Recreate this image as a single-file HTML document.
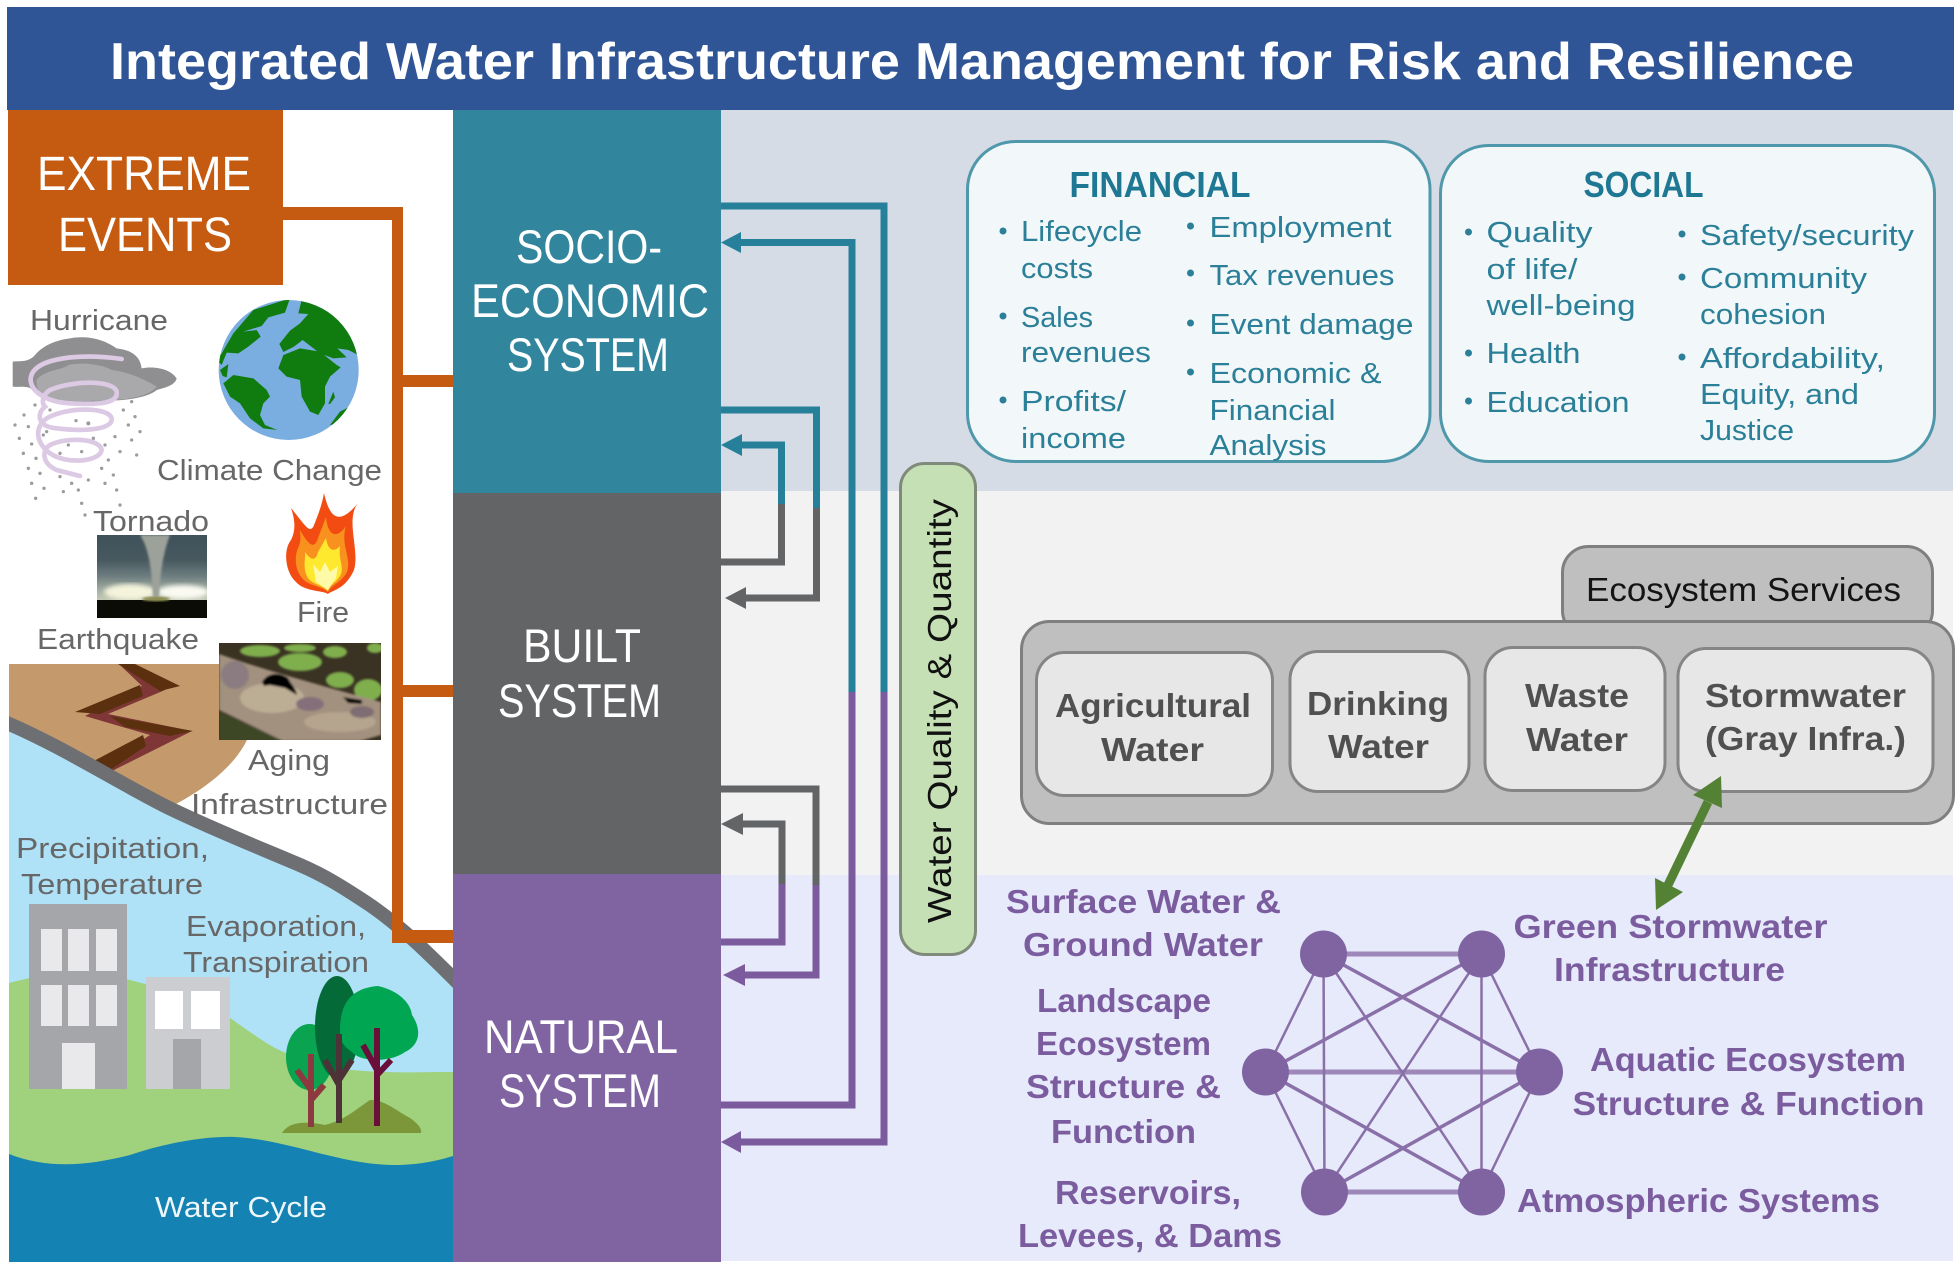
<!DOCTYPE html>
<html lang="en">
<head>
<meta charset="utf-8">
<title>Integrated Water Infrastructure Management for Risk and Resilience</title>
<style>
html,body{margin:0;padding:0;background:#fff;width:1960px;height:1270px;overflow:hidden}
svg{display:block}
text{font-family:"Liberation Sans",sans-serif}
.tt{fill:#fff;font-weight:bold;font-size:52px}
.ev{fill:#fff;font-size:48px}
.sy{fill:#fff;font-size:47px}
.lb{fill:#676767;font-size:29px}
.fi{fill:#2b7f98;font-size:29px}
.hd{fill:#1f7893;font-size:36px;font-weight:bold}
.bl{fill:#2b7f98}
.in{fill:#505050;font-size:33px;font-weight:bold}
.pu{fill:#7b5c9e;font-size:33px;font-weight:bold}
</style>
</head>
<body>
<svg width="1960" height="1270" viewBox="0 0 1960 1270" xmlns="http://www.w3.org/2000/svg">
<defs>
<filter id="b1"><feGaussianBlur stdDeviation="1"/></filter>
<filter id="b2"><feGaussianBlur stdDeviation="2.5"/></filter>
<clipPath id="globe"><circle cx="288.700" cy="370" r="70"/></clipPath>
<clipPath id="pipe"><rect x="219" y="643" width="162" height="97"/></clipPath>
<clipPath id="torn"><rect x="97" y="535" width="110" height="83"/></clipPath>
<clipPath id="scene"><rect x="9" y="600" width="444" height="662"/></clipPath>
<linearGradient id="tg" x1="0" y1="0" x2="0" y2="1">
<stop offset="0" stop-color="#3f515a"/><stop offset=".3" stop-color="#47585f"/><stop offset=".5" stop-color="#6e7e80"/><stop offset=".68" stop-color="#a8b3a4"/><stop offset=".8" stop-color="#c8ccb8"/>
</linearGradient>
</defs>

<!-- backgrounds -->
<rect x="721" y="110" width="1232" height="381" fill="#d6dce5"/>
<rect x="721" y="491" width="1232" height="384" fill="#f2f2f2"/>
<rect x="721" y="875" width="1232" height="386" fill="#e6eafb"/>

<!-- title bar -->
<rect x="7" y="7" width="1947" height="103" fill="#2f5597"/>
<text class="tt" x="110" y="79" textLength="1744" lengthAdjust="spacingAndGlyphs">Integrated Water Infrastructure Management for Risk and Resilience</text>

<!-- Scene: earthquake ground -->
<path d="M9 664H252V725C245 760 205 790 168 808L9 730Z" fill="#c49a6c"/>
<!-- crack -->
<path d="M120 665L165 690L108 714L192 731L110 772L100 768L150 735L85 716L142 686Z" fill="#7e3636"/>
<path d="M118 664H135L180 686L160 691Z" fill="#5a300f"/>
<path d="M75 712L140 685L143 696L100 714Z" fill="#5a300f"/>
<path d="M110 716L193 731L170 736L125 727Z" fill="#5a300f"/>
<path d="M90 763L143 735L146 746L107 772Z" fill="#5a300f"/>

<g clip-path="url(#scene)">
<!-- sky, grass, water -->
<path d="M9 725C60 745 110 778 167 807C210 828 260 848 300 865C330 878 350 892 367 903C400 925 430 955 453 978V1262H9Z" fill="#afe1f7"/>
<path d="M9 983C40 975 60 972 90 974C130 975 200 1000 230 1018C250 1032 265 1043 277 1049C300 1060 320 1066 333 1068C380 1074 420 1072 453 1072V1200H9Z" fill="#a0d17c"/>
<path d="M9 1154C50 1170 90 1165 130 1155C165 1143 205 1136 235 1137C290 1140 340 1165 395 1165C420 1165 440 1160 453 1156V1262H9Z" fill="#1482b2"/>
<path d="M0 720C60 745 110 778 167 807C210 828 260 848 300 865C330 878 350 892 367 903C400 925 430 955 460 985" fill="none" stroke="#6e6f73" stroke-width="14"/>
</g>

<!-- buildings -->
<rect x="29" y="904" width="98" height="185" fill="#a5a6a9"/>
<g fill="#e9e9eb">
<rect x="41" y="929" width="21" height="42"/><rect x="68" y="929" width="21" height="42"/><rect x="96" y="929" width="21" height="42"/>
<rect x="41" y="985" width="21" height="41"/><rect x="68" y="985" width="21" height="41"/><rect x="96" y="985" width="21" height="41"/>
<rect x="62" y="1043" width="33" height="46"/>
</g>
<rect x="146" y="977" width="84" height="112" fill="#cccdd0"/>
<rect x="155" y="991" width="28" height="38" fill="#fff"/><rect x="191" y="991" width="29" height="38" fill="#fff"/>
<rect x="173" y="1039" width="28" height="50" fill="#a5a6a9"/>

<!-- trees -->
<path d="M282 1133C290 1120 310 1122 325 1125C345 1120 355 1110 370 1100C385 1100 395 1110 410 1118C420 1125 422 1130 421 1133Z" fill="#7b973a"/>
<ellipse cx="309.500" cy="1057" rx="23.500" ry="33" fill="#0aa34f"/>
<ellipse cx="337" cy="1027" rx="22" ry="51" fill="#046a38"/>
<path d="M340 1030C340 1005 350 988 378 986C395 990 410 1000 412 1015C422 1030 420 1045 405 1052C390 1063 360 1062 352 1052C342 1045 340 1040 340 1030Z" fill="#00a651"/>
<path d="M311 1127V1054M311 1090L297 1070M311 1100L324 1085" stroke="#8c3a3f" stroke-width="6" fill="none"/>
<path d="M339 1123V1034M339 1085L325 1060M339 1080L352 1060" stroke="#4d3338" stroke-width="6" fill="none"/>
<path d="M377 1126V1028M377 1070L363 1045M377 1075L391 1060" stroke="#6a0f3a" stroke-width="6" fill="none"/>

<!-- hurricane (zoom-space group) -->
<g transform="translate(0 290) scale(.33333)">
<path d="M38 215C60 212 85 218 105 195C130 165 170 150 210 145C245 138 300 140 350 175C390 180 420 195 425 235C460 228 510 235 530 265C525 285 500 292 470 300C450 318 400 330 330 332C270 338 180 338 130 325C110 312 100 298 85 292C65 288 50 292 38 290Z" fill="#8f8f92"/>
<path d="M110 270C130 240 190 240 205 225C250 215 310 225 335 240C380 245 430 265 470 290C450 315 400 328 330 330C260 336 180 335 130 322C115 305 108 290 110 270Z" fill="#a9a9ac"/>
<g fill="#9c9c9e">
<circle cx="72" cy="375" r="5"/><circle cx="45" cy="405" r="5"/><circle cx="58" cy="445" r="5"/><circle cx="85" cy="410" r="5"/><circle cx="95" cy="462" r="5"/><circle cx="70" cy="490" r="5"/><circle cx="108" cy="505" r="5"/><circle cx="85" cy="535" r="5"/><circle cx="120" cy="550" r="5"/><circle cx="95" cy="580" r="5"/><circle cx="132" cy="595" r="5"/><circle cx="107" cy="625" r="5"/><circle cx="180" cy="560" r="5"/><circle cx="215" cy="580" r="5"/><circle cx="190" cy="605" r="5"/><circle cx="235" cy="600" r="5"/><circle cx="265" cy="570" r="5"/><circle cx="315" cy="580" r="5"/><circle cx="350" cy="600" r="5"/><circle cx="340" cy="555" r="5"/><circle cx="305" cy="535" r="5"/><circle cx="325" cy="510" r="5"/><circle cx="360" cy="485" r="5"/><circle cx="395" cy="450" r="5"/><circle cx="410" cy="495" r="5"/><circle cx="420" cy="425" r="5"/><circle cx="385" cy="405" r="5"/><circle cx="405" cy="380" r="5"/><circle cx="370" cy="360" r="5"/><circle cx="395" cy="335" r="5"/><circle cx="345" cy="440" r="5"/><circle cx="315" cy="465" r="5"/><circle cx="265" cy="400" r="6"/><circle cx="228" cy="392" r="5"/><circle cx="140" cy="425" r="5"/><circle cx="130" cy="435" r="5"/><circle cx="205" cy="465" r="5"/><circle cx="245" cy="485" r="5"/><circle cx="180" cy="490" r="5"/><circle cx="280" cy="445" r="5"/><circle cx="245" cy="640" r="5"/><circle cx="360" cy="645" r="5"/><circle cx="255" cy="675" r="5"/><circle cx="105" cy="345" r="5"/><circle cx="150" cy="360" r="5"/><circle cx="220" cy="340" r="5"/><circle cx="280" cy="335" r="5"/><circle cx="175" cy="330" r="5"/>
</g>
<path d="M365 207C250 190 100 200 92 265C90 300 130 335 210 340C300 345 355 340 350 305C340 270 220 270 150 300C125 315 125 340 135 350C110 370 110 410 170 415C250 425 340 420 335 385C325 350 200 350 140 385C100 415 110 460 150 490C200 525 300 515 305 480C300 445 200 440 150 465C125 480 125 520 170 540L240 558" fill="none" stroke="#dcc9e3" stroke-width="14" stroke-linecap="round"/>
</g>

<!-- globe -->
<circle cx="288.700" cy="370" r="70" fill="#7aade0"/>
<g clip-path="url(#globe)"><g transform="translate(0 290) scale(.33333)" fill="#107c10">
<path d="M650 210L665 190L700 130L760 60L870 25L855 68L805 82L785 108L730 125L770 120L782 140L745 170L715 190L680 188L665 225Z"/>
<path d="M905 30L980 40L1060 110L1085 200L1045 180L1012 175L1040 202L1000 205L960 190L908 150L882 170L850 186L838 162L870 122L900 100L925 72L895 70Z"/>
<path d="M835 235L850 195L900 175L960 185L1010 225L1022 232L990 260L975 290L975 340L955 375L930 365L905 320L900 270L860 260Z"/>
<path d="M985 342L1000 305L1005 322L990 342Z"/>
<path d="M670 280L700 255L760 265L800 300L810 320L790 340L780 375L795 405L832 420L790 415L750 385L720 340L690 320Z"/>
<path d="M990 405L1020 365L1050 350L1030 400Z"/>
<path d="M660 240L685 222L680 262L668 258Z"/>
</g></g>

<!-- tornado photo -->
<g clip-path="url(#torn)">
<rect x="97" y="535" width="110" height="83" fill="url(#tg)"/>
<g filter="url(#b2)">
<ellipse cx="130" cy="592" rx="26" ry="8" fill="#f4f4dc"/>
<ellipse cx="183" cy="592" rx="26" ry="7" fill="#fafaf2"/>
</g>
<path d="M140 535L170 535C162 555 160 580 159 597L153 597C152 575 150 550 140 535Z" fill="#9ca29a" filter="url(#b1)"/>
<rect x="97" y="600" width="110" height="18" fill="#0c0c06"/>
<ellipse cx="156" cy="599" rx="14" ry="2.500" fill="#8a8c50" filter="url(#b1)"/>
</g>

<!-- fire -->
<path d="M324 493C330 520 340 525 358 503C345 520 360 550 354 570C345 590 332 590 328 594C322 590 305 592 296 582C285 572 283 550 291 540C296 530 295 520 291 508C305 525 310 535 314 525C318 515 322 505 324 493Z" fill="#f24c12"/>
<path d="M326 517C328 538 338 538 346 526C340 545 352 558 347 572C340 584 332 584 328 592C322 586 308 586 302 578C294 568 295 555 298 548C302 540 300 535 300 530C310 548 315 548 318 538Z" fill="#f8911e"/>
<path d="M326 538C328 552 335 552 340 546C338 560 345 568 340 576C335 584 330 584 328 591C322 585 312 584 308 578C302 568 306 558 305 552C312 562 316 560 318 552Z" fill="#ffe92e"/>
<path d="M313 564L320 572L325 562L330 572L338 566L336 578L328 590L316 582Z" fill="#fffaa8"/>

<!-- pipe photo -->
<g clip-path="url(#pipe)">
<rect x="219" y="643" width="162" height="97" fill="#3a3222"/>
<g filter="url(#b1)">
<g fill="#7fae4e">
<ellipse cx="260" cy="651" rx="20" ry="6"/><ellipse cx="300" cy="662" rx="22" ry="9"/><ellipse cx="340" cy="680" rx="14" ry="8"/><ellipse cx="368" cy="690" rx="14" ry="11"/><ellipse cx="335" cy="652" rx="12" ry="6"/><ellipse cx="375" cy="648" rx="8" ry="5"/><ellipse cx="300" cy="648" rx="16" ry="4"/>
</g>
<path d="M219 654C250 665 300 680 381 702V735L360 741H283L219 710Z" fill="#a3917f"/>
<ellipse cx="272" cy="698" rx="32" ry="15" fill="#bcae94"/>
<ellipse cx="340" cy="722" rx="36" ry="10" fill="#b5a48e"/>
<ellipse cx="235" cy="675" rx="14" ry="14" fill="#8a7b80"/>
<ellipse cx="310" cy="704" rx="14" ry="7" fill="#84707a"/>
<ellipse cx="362" cy="712" rx="12" ry="6" fill="#7e6d72"/>
<path d="M219 712L283 741H219Z" fill="#3c4628"/>
<path d="M262 682C268 672 280 672 288 678C292 686 296 688 297 695L285 688L270 685L264 686Z" fill="#050505"/>
<path d="M343 697L362 700V704L348 703Z" fill="#050505"/>
</g>
</g>

<!-- left labels -->
<text class="lb" x="30" y="330" textLength="138" lengthAdjust="spacingAndGlyphs">Hurricane</text>
<text class="lb" x="157" y="480" textLength="225" lengthAdjust="spacingAndGlyphs">Climate Change</text>
<text class="lb" x="93" y="531" textLength="116" lengthAdjust="spacingAndGlyphs">Tornado</text>
<text class="lb" x="297" y="622" textLength="52" lengthAdjust="spacingAndGlyphs">Fire</text>
<text class="lb" x="37" y="649" textLength="162" lengthAdjust="spacingAndGlyphs">Earthquake</text>
<text class="lb" x="248" y="770" textLength="82" lengthAdjust="spacingAndGlyphs">Aging</text>
<text class="lb" x="191" y="814" textLength="197" lengthAdjust="spacingAndGlyphs">Infrastructure</text>
<text class="lb" x="16" y="858" textLength="193" lengthAdjust="spacingAndGlyphs">Precipitation,</text>
<text class="lb" x="21" y="894" textLength="182" lengthAdjust="spacingAndGlyphs">Temperature</text>
<text class="lb" x="186" y="936" textLength="180" lengthAdjust="spacingAndGlyphs">Evaporation,</text>
<text class="lb" x="183" y="972" textLength="186" lengthAdjust="spacingAndGlyphs">Transpiration</text>
<text class="lb" style="fill:#eef7fb" x="155" y="1217" textLength="172" lengthAdjust="spacingAndGlyphs">Water Cycle</text>

<!-- extreme events -->
<rect x="8" y="110" width="275" height="175" fill="#c55a11"/>
<text class="ev" x="37" y="190" textLength="214" lengthAdjust="spacingAndGlyphs">EXTREME</text>
<text class="ev" x="58" y="251" textLength="174" lengthAdjust="spacingAndGlyphs">EVENTS</text>
<path d="M283 207H403V375H454V387H403V685H454V697H403V930H454V943H392V220H283Z" fill="#c55a11"/>

<!-- system columns -->
<rect x="453" y="110" width="268" height="383" fill="#31859c"/>
<rect x="453" y="493" width="268" height="381" fill="#636466"/>
<rect x="453" y="874" width="268" height="388" fill="#8064a2"/>
<text class="sy" x="516" y="263" textLength="146" lengthAdjust="spacingAndGlyphs">SOCIO-</text>
<text class="sy" x="471" y="317" textLength="238" lengthAdjust="spacingAndGlyphs">ECONOMIC</text>
<text class="sy" x="507" y="371" textLength="162" lengthAdjust="spacingAndGlyphs">SYSTEM</text>
<text class="sy" x="523" y="662" textLength="118" lengthAdjust="spacingAndGlyphs">BUILT</text>
<text class="sy" x="498" y="717" textLength="163" lengthAdjust="spacingAndGlyphs">SYSTEM</text>
<text class="sy" x="484" y="1053" textLength="194" lengthAdjust="spacingAndGlyphs">NATURAL</text>
<text class="sy" x="499" y="1107" textLength="162" lengthAdjust="spacingAndGlyphs">SYSTEM</text>

<!-- feedback connectors -->
<g fill="none" stroke-width="7">
<path d="M721 206H884V692" stroke="#268099"/>
<path d="M884 692V1142H738" stroke="#7b5a9e"/>
<path d="M738 242.500H852V692" stroke="#268099"/>
<path d="M852 692V1105H721" stroke="#7b5a9e"/>
<path d="M721 410H816.500V508" stroke="#268099"/>
<path d="M816.500 508V598H742" stroke="#636466"/>
<path d="M738 445H781.500V504" stroke="#268099"/>
<path d="M781.500 504V562H721" stroke="#636466"/>
<path d="M721 789H816V885" stroke="#636466"/>
<path d="M816 885V975H742" stroke="#7b5a9e"/>
<path d="M738 824H782V884" stroke="#636466"/>
<path d="M782 884V942H721" stroke="#7b5a9e"/>
</g>
<path d="M721 242.500L741 232V253Z" fill="#268099"/>
<path d="M721 445L742 434V456Z" fill="#268099"/>
<path d="M725 598L746 587V609Z" fill="#636466"/>
<path d="M721 824L743 813V835Z" fill="#636466"/>
<path d="M723 975L745 964V986Z" fill="#7b5a9e"/>
<path d="M721 1142L741 1131V1153Z" fill="#7b5a9e"/>

<!-- water quality pill -->
<rect x="900.500" y="463.500" width="75" height="491" rx="24" fill="#c5e0b4" stroke="#7f8a7a" stroke-width="3"/>
<text transform="translate(951 923) rotate(-90)" fill="#111" font-size="33" textLength="424" lengthAdjust="spacingAndGlyphs">Water Quality &amp; Quantity</text>

<!-- financial -->
<rect x="967.500" y="141.500" width="462.500" height="320" rx="48" fill="#f2f8f9" stroke="#4f98ab" stroke-width="3"/>
<text class="hd" x="1069.500" y="197" textLength="181" lengthAdjust="spacingAndGlyphs">FINANCIAL</text>
<g transform="translate(-1 0)">
<g class="bl"><circle cx="1004" cy="231" r="3.500"/><circle cx="1004" cy="316" r="3.500"/><circle cx="1004" cy="400" r="3.500"/></g>
<text class="fi" x="1022" y="241" textLength="121" lengthAdjust="spacingAndGlyphs">Lifecycle</text>
<text class="fi" x="1022" y="278" textLength="72" lengthAdjust="spacingAndGlyphs">costs</text>
<text class="fi" x="1022" y="327" textLength="72" lengthAdjust="spacingAndGlyphs">Sales</text>
<text class="fi" x="1022" y="362" textLength="130" lengthAdjust="spacingAndGlyphs">revenues</text>
<text class="fi" x="1022" y="411" textLength="105" lengthAdjust="spacingAndGlyphs">Profits/</text>
<text class="fi" x="1022" y="448" textLength="105" lengthAdjust="spacingAndGlyphs">income</text>
</g>
<g transform="translate(-2.500 0)">
<g class="bl"><circle cx="1193" cy="226" r="3.500"/><circle cx="1193" cy="273" r="3.500"/><circle cx="1193" cy="323" r="3.500"/><circle cx="1193" cy="372" r="3.500"/></g>
<text class="fi" x="1212" y="237" textLength="182" lengthAdjust="spacingAndGlyphs">Employment</text>
<text class="fi" x="1212" y="285" textLength="185" lengthAdjust="spacingAndGlyphs">Tax revenues</text>
<text class="fi" x="1212" y="334" textLength="204" lengthAdjust="spacingAndGlyphs">Event damage</text>
<text class="fi" x="1212" y="383" textLength="172" lengthAdjust="spacingAndGlyphs">Economic &amp;</text>
<text class="fi" x="1212" y="420" textLength="126" lengthAdjust="spacingAndGlyphs">Financial</text>
<text class="fi" x="1212" y="455" textLength="117" lengthAdjust="spacingAndGlyphs">Analysis</text>
</g>

<!-- social -->
<rect x="1440.500" y="145.500" width="494" height="316" rx="48" fill="#f2f8f9" stroke="#4f98ab" stroke-width="3"/>
<text class="hd" x="1583.500" y="197" textLength="120" lengthAdjust="spacingAndGlyphs">SOCIAL</text>
<g transform="translate(-3.500 0)">
<g class="bl"><circle cx="1472" cy="232" r="3.500"/><circle cx="1472" cy="353" r="3.500"/><circle cx="1472" cy="401" r="3.500"/></g>
<text class="fi" x="1490" y="242" textLength="106" lengthAdjust="spacingAndGlyphs">Quality</text>
<text class="fi" x="1490" y="279" textLength="91" lengthAdjust="spacingAndGlyphs">of life/</text>
<text class="fi" x="1490" y="315" textLength="149" lengthAdjust="spacingAndGlyphs">well-being</text>
<text class="fi" x="1490" y="363" textLength="94" lengthAdjust="spacingAndGlyphs">Health</text>
<text class="fi" x="1490" y="412" textLength="143" lengthAdjust="spacingAndGlyphs">Education</text>
</g>
<g transform="translate(-5 0)">
<g class="bl"><circle cx="1687" cy="234" r="3.500"/><circle cx="1687" cy="277" r="3.500"/><circle cx="1687" cy="357" r="3.500"/></g>
<text class="fi" x="1705" y="245" textLength="214" lengthAdjust="spacingAndGlyphs">Safety/security</text>
<text class="fi" x="1705" y="288" textLength="167" lengthAdjust="spacingAndGlyphs">Community</text>
<text class="fi" x="1705" y="324" textLength="126" lengthAdjust="spacingAndGlyphs">cohesion</text>
<text class="fi" x="1705" y="368" textLength="185" lengthAdjust="spacingAndGlyphs">Affordability,</text>
<text class="fi" x="1705" y="404" textLength="159" lengthAdjust="spacingAndGlyphs">Equity, and</text>
<text class="fi" x="1705" y="440" textLength="94" lengthAdjust="spacingAndGlyphs">Justice</text>
</g>

<!-- infrastructure -->
<rect x="1562.500" y="546.500" width="370" height="90" rx="26" fill="#bfbfbf" stroke="#7f7f7f" stroke-width="3"/>
<rect x="1021.500" y="621.500" width="932" height="202" rx="28" fill="#bfbfbf" stroke="#7f7f7f" stroke-width="3"/>
<path d="M1575 621H1925" stroke="#7f7f7f" stroke-width="2"/>
<text x="1586" y="601" fill="#141414" font-size="33" textLength="315" lengthAdjust="spacingAndGlyphs">Ecosystem Services</text>
<g fill="#e7e7e7" stroke="#858585" stroke-width="3">
<rect x="1036.500" y="652.500" width="236" height="143" rx="28"/>
<rect x="1290" y="651.500" width="179" height="140" rx="28"/>
<rect x="1485" y="647.500" width="180" height="143" rx="28"/>
<rect x="1678" y="648.500" width="255" height="143" rx="28"/>
</g>
<text class="in" x="1055" y="717" textLength="196" lengthAdjust="spacingAndGlyphs">Agricultural</text>
<text class="in" x="1101" y="761" textLength="103" lengthAdjust="spacingAndGlyphs">Water</text>
<text class="in" x="1307" y="715" textLength="142" lengthAdjust="spacingAndGlyphs">Drinking</text>
<text class="in" x="1328" y="758" textLength="101" lengthAdjust="spacingAndGlyphs">Water</text>
<text class="in" x="1525" y="707" textLength="104" lengthAdjust="spacingAndGlyphs">Waste</text>
<text class="in" x="1526" y="751" textLength="102" lengthAdjust="spacingAndGlyphs">Water</text>
<text class="in" x="1705" y="707" textLength="201" lengthAdjust="spacingAndGlyphs">Stormwater</text>
<text class="in" x="1705" y="750" textLength="201" lengthAdjust="spacingAndGlyphs">(Gray Infra.)</text>

<!-- network -->
<g transform="translate(-2.500 0)">
<g stroke="#8a70a8" stroke-width="2.500" fill="none">
<path d="M1326 954L1484 954M1268 1072L1542 1072M1327 1192L1484 1192" stroke-width="5" stroke="#9d88b9"/>
<path d="M1326 954L1542 1072M1484 954L1268 1072M1268 1072L1484 1192M1542 1072L1327 1192" stroke-width="3.500"/>
<path d="M1326 954L1268 1072M1326 954L1327 1192M1326 954L1484 1192"/>
<path d="M1484 954L1327 1192M1484 954L1484 1192M1484 954L1542 1072"/>
<path d="M1268 1072L1327 1192M1542 1072L1484 1192"/>
</g>
<g fill="#8064a2">
<circle cx="1326" cy="954" r="23.500"/><circle cx="1484" cy="954" r="23.500"/>
<circle cx="1268" cy="1072" r="23.500"/><circle cx="1542" cy="1072" r="23.500"/>
<circle cx="1327" cy="1192" r="23.500"/><circle cx="1484" cy="1192" r="23.500"/>
</g>
</g>
<g transform="translate(-1 0)">
<text class="pu" x="1007" y="913" textLength="275" lengthAdjust="spacingAndGlyphs">Surface Water &amp;</text>
<text class="pu" x="1024" y="956" textLength="240" lengthAdjust="spacingAndGlyphs">Ground Water</text>
<text class="pu" x="1038" y="1012" textLength="174" lengthAdjust="spacingAndGlyphs">Landscape</text>
<text class="pu" x="1037" y="1055" textLength="175" lengthAdjust="spacingAndGlyphs">Ecosystem</text>
<text class="pu" x="1027" y="1098" textLength="195" lengthAdjust="spacingAndGlyphs">Structure &amp;</text>
<text class="pu" x="1052" y="1143" textLength="145" lengthAdjust="spacingAndGlyphs">Function</text>
<text class="pu" x="1056" y="1204" textLength="186" lengthAdjust="spacingAndGlyphs">Reservoirs,</text>
<text class="pu" x="1019" y="1247" textLength="264" lengthAdjust="spacingAndGlyphs">Levees, &amp; Dams</text>
</g>
<text class="pu" x="1513.500" y="938" textLength="314" lengthAdjust="spacingAndGlyphs">Green Stormwater</text>
<text class="pu" x="1554" y="981" textLength="231" lengthAdjust="spacingAndGlyphs">Infrastructure</text>
<text class="pu" x="1590" y="1071" textLength="316" lengthAdjust="spacingAndGlyphs">Aquatic Ecosystem</text>
<text class="pu" x="1572.500" y="1115" textLength="352" lengthAdjust="spacingAndGlyphs">Structure &amp; Function</text>
<text class="pu" x="1517" y="1212" textLength="363" lengthAdjust="spacingAndGlyphs">Atmospheric Systems</text>

<!-- green arrow -->
<path d="M1708 802L1668 885" stroke="#548235" stroke-width="9" fill="none"/>
<path d="M1721 776L1722 808L1693 795Z" fill="#548235"/>
<path d="M1656 910L1655 878L1683 892Z" fill="#548235"/>
</svg>
</body>
</html>
